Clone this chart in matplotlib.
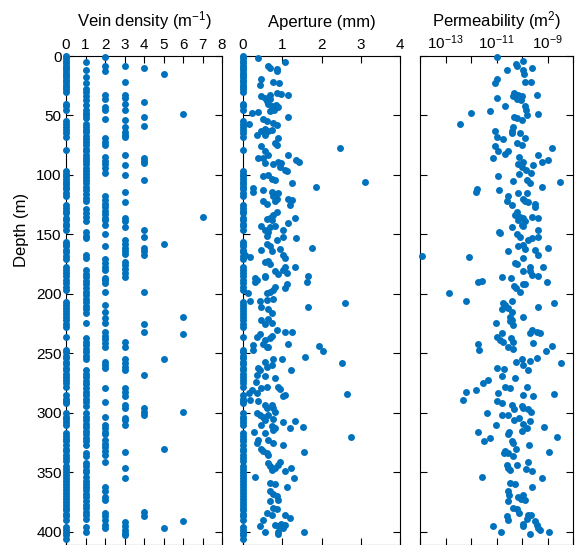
import numpy as np
import matplotlib.pyplot as plt

plt.rcParams['font.family'] = ['Liberation Sans', 'DejaVu Sans']
plt.rcParams['mathtext.default'] = 'regular'

blue = '#0072BD'

# depths (m) of each vein count per metre; count 0 also has zero aperture
depth_vd0 = [0, 2, 4, 6, 8, 10, 12, 14, 16, 18, 20, 22, 24, 26, 28, 30,
             40, 42, 45, 55, 57, 60, 62, 65, 68, 79,
             97, 99, 101, 103, 106, 108, 110, 112, 115, 118, 125, 128, 130, 132,
             136, 138, 141, 143, 146, 156, 158, 160, 163, 165, 168, 171,
             177, 180, 182, 185, 188, 191, 194, 197,
             207, 209, 212, 214, 217, 219, 222, 225, 228, 236,
             247, 249, 252, 254, 257, 259, 262, 264, 267, 270, 272, 275, 278,
             285, 288, 290, 292, 300, 303, 305, 308, 310,
             317, 319, 322, 324, 327, 330, 332, 335, 338, 340,
             345, 347, 350, 352, 355, 357, 360, 362, 365, 367, 370, 372, 375,
             377, 380, 382, 385, 387, 390, 396, 398, 401, 403, 406]
depth_vd1 = [5, 12, 18, 23, 28, 30, 34, 37, 41, 45, 48, 50, 52, 57, 60, 62, 64,
             67, 70, 72, 75, 78, 80, 83, 86, 88, 91, 94, 97, 99, 102, 104, 107,
             110, 113, 116, 119, 122, 129, 132, 135, 139, 148, 151, 153, 167,
             170, 180, 183, 186, 189, 192, 195, 198, 201, 204, 207, 210, 213,
             216, 224, 237, 240, 243, 246, 249, 252, 255, 264, 267, 270, 273,
             276, 279, 282, 285, 288, 291, 294, 300, 303, 306, 309, 312, 315,
             318, 321, 324, 327, 334, 336, 342, 345, 348, 350, 354, 357, 360,
             362, 365, 368, 371, 374, 377, 380, 383, 386, 389, 396, 400]
depth_vd2 = [1, 8, 13, 33, 36, 43, 45, 53, 69, 72, 75, 85, 88, 91, 94, 98, 118,
             121, 124, 127, 130, 133, 136, 138, 142, 150, 160, 171, 174, 177,
             180, 187, 188, 191, 198, 209, 215, 220, 224, 232, 235, 238, 241,
             245, 257, 260, 262, 279, 291, 303, 310, 313, 316, 318, 323, 326,
             329, 332, 335, 341, 362, 366, 371, 373, 384, 387, 390, 394, 397]
depth_vd3 = [8, 22, 33, 35, 40, 45, 54, 60, 64, 66, 68, 83, 92, 100, 114, 123,
             136, 139, 144, 155, 158, 161, 164, 166, 173, 176, 179, 182, 186,
             240, 245, 255, 258, 261, 264, 279, 282, 286, 293, 296, 304, 306,
             310, 333, 346, 355, 392, 395, 398, 401, 403]
depth_vd4 = [10, 39, 51, 59, 86, 88, 90, 104, 146, 152, 161, 164, 167, 198,
             225, 232, 268, 296, 299, 302, 383, 387]
depth_vd5 = [15, 158, 255, 330, 397]
depth_vd6 = [49, 219, 234, 299, 391]
depth_vd7 = [135]

# aperture (mm) of the veined intervals
ap_depth = [2, 5, 8, 10, 11, 13, 19, 22, 23, 24, 31, 32, 33, 34, 35, 36, 33,
            38, 40, 42, 41, 43, 45, 46, 47, 48, 51, 53, 55, 57, 56, 58, 61,
            63, 66, 66, 63, 62, 69, 73, 75, 77, 76, 80, 83, 86, 86, 83, 90, 91,
            89, 93, 90, 87, 89, 97, 96, 101, 100, 103, 104, 107, 110, 106, 111,
            114, 113, 114, 116, 118, 115, 120, 121, 125, 122, 124, 122, 120,
            131, 134, 136, 137, 138, 136, 140, 143, 146, 148, 151, 143, 144,
            146, 152, 153, 155, 161, 158, 160, 164, 163, 169, 167, 162, 167,
            170, 173, 172, 175, 177, 177, 180, 182, 181, 183, 187, 185, 185,
            190, 188, 186, 190, 194, 197, 199, 198, 195, 192, 199, 206, 206,
            211, 205, 204, 213, 216, 211, 208, 222, 225, 221, 224, 230, 232,
            232, 234, 236, 235, 237, 242, 239, 242, 245, 245, 243, 247, 244,
            248, 253, 255, 257, 255, 260, 261, 258, 262, 264, 264, 269, 271,
            268, 274, 281, 283, 283, 279, 278, 278, 280, 286, 285, 284,
            289, 290, 293, 296, 293, 296, 299, 300, 302, 303, 302, 306, 305,
            310, 308, 307, 313, 312, 311, 314, 313, 316, 317, 320, 323, 325,
            323, 325, 327, 330, 332, 334, 335, 333, 342, 345, 348, 346, 344,
            341, 349, 346, 354, 355, 359, 360, 362, 366, 368, 370, 373, 374,
            380, 381, 384, 386, 390, 386, 388, 395, 394, 395, 393, 394, 400,
            397, 400, 400, 402]
ap_mm = [0.39, 1.07, 0.64, 0.69, 0.86, 0.86, 0.47, 0.77, 0.92, 0.43, 0.86,
         0.98, 1.14, 0.47, 0.55, 0.69, 0.68, 0.60, 0.64, 0.73, 0.85, 0.90,
         0.80, 0.69, 0.39, 0.22, 1.15, 0.52, 0.60, 0.16, 0.77, 0.86, 0.56,
         0.47, 0.35, 0.56, 0.64, 0.73, 0.90, 0.81, 0.86, 2.47, 0.47, 0.56,
         0.64, 0.39, 0.52, 1.15, 0.56, 0.77, 0.90, 0.94, 0.98, 1.36, 1.42,
         1.11, 1.07, 0.52, 0.64, 0.73, 0.81, 1.24, 1.85, 3.10, 0.26, 0.26,
         0.52, 0.73, 0.81, 0.77, 0.90, 1.15, 1.24, 1.20, 0.52, 0.60, 0.81,
         0.86, 0.86, 0.77, 0.69, 0.60, 0.73, 1.32, 1.15, 0.47, 0.56, 0.64,
         0.60, 0.81, 0.69, 1.03, 1.03, 1.36, 0.86, 1.76, 0.60, 0.69, 0.73,
         0.47, 0.18, 0.05, 0.94, 1.03, 1.07, 0.56, 0.64, 0.69, 1.32, 1.07,
         1.03, 1.11, 0.81, 0.90, 0.30, 0.56, 1.66,
         0.30, 0.35, 0.56, 1.62, 0.81, 0.77, 0.60, 0.69, 1.07, 1.11, 0.14,
         0.18, 0.43, 0.47, 0.60, 0.77, 0.64, 0.73, 1.66, 2.59, 0.47, 0.56,
         0.64, 0.73, 0.86, 1.07, 1.24, 0.43, 0.35, 0.73, 0.69, 1.15, 0.56,
         0.52, 0.60, 0.64, 0.26, 0.26, 1.94, 2.05, 1.58, 0.99, 0.56, 0.77,
         0.73, 0.60, 2.53, 0.39, 0.43, 1.22, 0.56, 0.81, 0.35, 0.32, 0.22,
         0.15, 0.35, 0.47, 0.60, 0.90, 0.94, 1.03, 1.07, 2.66,
         0.18, 0.39, 0.56, 0.60, 0.73, 0.77, 0.81, 0.35, 0.43, 0.52, 0.64,
         0.56, 0.77, 0.47, 1.03, 1.32, 1.20, 1.53, 0.73, 0.77, 0.81, 0.29,
         0.56, 2.76, 0.39, 0.35, 0.64, 0.77, 1.01, 0.47, 0.52, 0.60, 0.64,
         1.55, 0.64, 0.69, 0.73, 0.81, 0.90, 0.94, 1.07, 1.22, 0.30, 1.30,
         0.69, 0.81, 1.11, 0.69, 0.77, 0.86, 0.90, 0.69, 0.77, 0.86, 0.60,
         0.73, 0.52, 1.07, 1.20, 0.43, 0.81, 0.90, 0.98, 1.07, 0.90, 1.03,
         0.56, 1.55, 0.90]

# permeability, stored as log10 of m^2
perm_depth = [1, 8, 7, 4, 10, 12, 12, 15, 19, 23, 22, 22, 31, 33, 36, 37, 34,
              34, 33, 35, 42, 42, 45, 50, 46, 48, 49, 52, 51, 54, 57, 60,
              63, 68, 70, 63, 65, 65, 69, 73, 75, 76, 80, 86, 82, 80, 77, 83,
              89, 87, 85, 91, 93, 89, 92, 96, 99, 98, 101, 105, 104, 107, 106,
              110, 112, 114, 113, 115, 115, 118, 122, 125, 120, 122, 123, 124,
              127, 131, 134, 135, 138, 136, 139, 142, 143, 135, 136, 144, 148,
              149, 150, 152, 153, 155, 152, 146, 160, 159, 162, 163, 167, 161,
              164, 168, 169, 170, 174, 175, 177, 177,
              181, 181, 184, 185, 190, 186, 187, 190, 189, 193, 195, 198, 192,
              192, 199, 206, 208, 209, 206, 213, 212, 215, 219, 211, 208, 219,
              224, 223, 226, 222, 230, 233, 232, 233, 236, 233, 239, 240, 237,
              240, 245, 246, 241, 242, 247, 244, 248, 257, 255, 260, 256, 254,
              264, 258, 262, 263, 269, 271, 275, 272, 278, 279, 278, 282, 281,
              283, 285, 286, 284,
              289, 290, 292, 293, 294, 296, 297, 299, 297, 300, 302, 302, 306,
              304, 309, 307, 315, 313, 310, 312, 316, 316, 318, 324, 321, 320,
              324, 325, 330, 327, 332, 334, 334, 336, 333, 344, 346, 348, 344,
              341, 347, 349, 354, 355, 359, 360, 362, 366, 369, 371, 372, 369,
              373, 374, 380, 381, 384, 387, 390, 386, 386, 389, 393, 395, 391,
              397, 394, 398, 395, 400, 402, 400]
perm_log = [-11.0, -10.2, -10.25, -9.95, -9.62, -10.6, -9.95, -9.93, -11.0,
            -11.06, -9.9, -9.66, -10.3, -10.15, -10.2, -10.05, -10.0, -10.35,
            -9.4, -10.97, -10.67, -9.9, -9.85, -9.8, -11.25, -12.0, -9.36,
            -10.2, -10.3, -10.0, -12.43, -10.35,
            -11.06, -11.0, -10.73, -10.4, -10.4, -10.08, -9.88, -10.2, -10.0,
            -11.06, -10.93, -11.12, -10.67, -10.54, -8.84, -9.36, -9.23, -8.97,
            -10.1, -10.15, -10.0, -9.95, -9.55, -9.85, -10.1, -9.65, -10.93,
            -10.34, -9.8, -9.7, -8.5, -9.2, -11.78, -11.82, -10.89, -10.15,
            -9.8, -10.54, -10.6, -10.4, -9.95, -9.88, -9.75, -9.5, -9.48,
            -10.2, -10.27, -10.08, -10.15, -9.95, -9.88, -10.0, -9.95, -9.62,
            -9.36, -10.4, -10.89, -10.86, -10.2, -10.08, -9.62, -9.75, -9.36,
            -9.39, -10.15, -9.95, -9.88, -9.5, -9.36, -8.97, -10.54, -13.93,
            -12.07, -9.95, -10.27, -10.2, -9.7, -9.16,
            -9.95, -9.69, -9.62, -9.36, -9.03, -10.8, -10.43, -11.71, -11.56,
            -10.3, -10.25, -10.08, -9.95, -9.88, -12.85, -12.2, -10.73, -10.67,
            -10.4, -10.8, -10.54, -10.4, -10.47, -9.36, -8.75, -9.95, -11.03,
            -10.47, -10.34, -10.4, -9.62, -9.69, -9.43, -9.3, -11.0, -10.8,
            -10.86, -10.73, -10.43, -10.34, -10.56, -10.34, -9.56, -11.74,
            -11.69, -8.84, -9.07, -10.24, -10.0, -9.98, -9.69, -9.4, -9.75,
            -8.48, -11.0, -10.7, -10.77, -10.27, -11.52, -11.32, -10.67,
            -10.47, -9.82, -12.2, -11.82, -10.95, -9.95, -9.56, -8.73,
            -12.3, -11.0, -10.8, -10.4, -10.01, -9.95, -9.75, -9.65, -10.3,
            -11.39, -10.8, -10.56, -10.3, -10.1, -9.95, -9.7, -10.0, -9.8,
            -11.03, -9.12, -11.74, -10.5, -10.54, -11.48, -11.25, -8.64, -10.4,
            -10.35, -10.25, -9.73, -10.67, -10.71, -10.54, -10.34, -8.94,
            -10.6, -10.54, -10.47, -10.18, -9.78, -9.86, -9.62, -11.56, -9.2,
            -10.47, -10.27, -9.6, -10.56, -10.51, -10.14, -10.04, -9.98, -9.88,
            -10.54, -10.34, -10.21, -10.12, -10.6, -10.56, -9.75, -9.65, -9.82,
            -9.95, -9.95, -9.49, -9.36, -9.42, -9.3, -11.12, -10.82, -9.69,
            -8.94]


def main():
    vd_depths = [depth_vd0, depth_vd1, depth_vd2, depth_vd3,
                 depth_vd4, depth_vd5, depth_vd6, depth_vd7]

    fig = plt.figure(figsize=(5.75, 5.45), dpi=100)
    h = 1 - 56 / 545
    ax1 = fig.add_axes([66 / 575, 0.0, 156 / 575, h])
    ax2 = fig.add_axes([243 / 575, 0.0, 157 / 575, h], sharey=ax1)
    ax3 = fig.add_axes([420 / 575, 0.0, 153 / 575, h], sharey=ax1)
    # dots sitting on the left spine stay whole
    mk = dict(ls='none', marker='o', ms=5, mec='none', color=blue,
              clip_on=False, zorder=3)

    for n, d in enumerate(vd_depths):
        ax1.plot([n] * len(d), d, **mk)

    ax2.plot([0] * len(depth_vd0), depth_vd0, **mk)
    ax2.plot(ap_mm, ap_depth, **mk)

    ax3.plot(10.0 ** np.array(perm_log), perm_depth, **mk)
    ax3.set_xscale('log')

    ax1.set_ylim(411, 0)
    ax1.set_yticks(range(0, 401, 50))
    ax1.set_xlim(0, 8)
    ax1.set_xticks(range(0, 9))
    ax2.set_xlim(0, 4)
    ax2.set_xticks(range(0, 5))
    ax3.set_xlim(1e-14, 1e-8)
    ax3.set_xticks([10.0 ** e for e in range(-14, -7)])
    ax3.set_xticklabels(['', '$10^{-13}$', '', '$10^{-11}$', '', '$10^{-9}$', ''])
    ax3.minorticks_off()

    ax1.set_title('Vein density (m$^{-1}$)', fontsize=12, pad=21)
    ax2.set_title('Aperture (mm)', fontsize=12, pad=21)
    ax3.set_title('Permeability (m$^2$)', fontsize=12, pad=21)
    ax1.set_ylabel('Depth (m)', fontsize=12)
    ax1.yaxis.set_label_coords(-0.24, 0.645)

    for ax in (ax1, ax2, ax3):
        ax.xaxis.tick_top()
        ax.tick_params(direction='in', length=5, width=0.8, top=True,
                       bottom=True, left=True, right=True, labelsize=11,
                       labeltop=True, labelbottom=False, pad=3)
        for s in ax.spines.values():
            s.set_linewidth(0.8)
    ax2.tick_params(labelleft=False)
    ax3.tick_params(labelleft=False)

    fig.savefig('out.png', dpi=100)


if __name__ == '__main__':
    main()
